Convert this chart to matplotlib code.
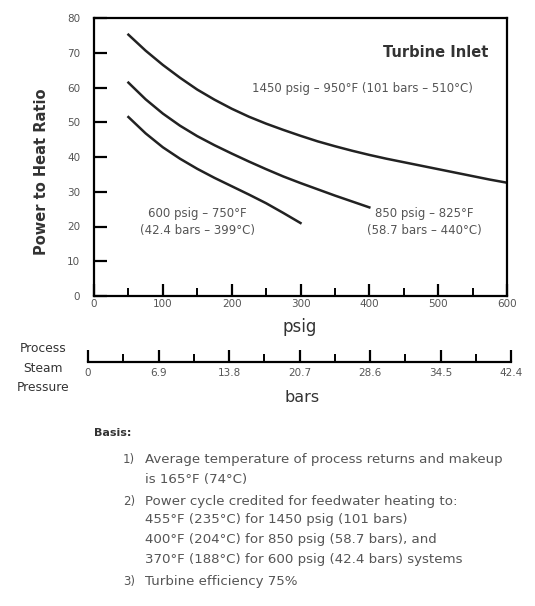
import numpy as np
import matplotlib
matplotlib.use("Agg")
import matplotlib.pyplot as plt
from matplotlib.ticker import MultipleLocator

# curve data (psig, power to heat ratio)
psig_1450 = [50, 75, 100, 125, 150, 175, 200, 225, 250, 275, 300, 325,
             350, 375, 400, 425, 450, 475, 500, 525, 550, 575, 600]
ratio_1450 = [75.2, 70.6, 66.5, 62.8, 59.4, 56.5, 53.9, 51.6, 49.6, 47.8, 46.1, 44.5,
              43.1, 41.8, 40.6, 39.5, 38.5, 37.5, 36.5, 35.5, 34.5, 33.5, 32.6]

psig_850 = [50, 75, 100, 125, 150, 175, 200, 225, 250, 275, 300, 325, 350, 375, 400]
ratio_850 = [61.4, 56.6, 52.5, 49.0, 46.0, 43.4, 41.0, 38.7, 36.5, 34.4, 32.5, 30.7,
             28.9, 27.2, 25.5]

psig_600 = [50, 75, 100, 125, 150, 175, 200, 225, 250, 275, 300]
ratio_600 = [51.5, 46.8, 42.8, 39.5, 36.6, 34.0, 31.6, 29.2, 26.7, 23.9, 21.0]

psig_ticks = [0, 100, 200, 300, 400, 500, 600]
bar_labels = ["0", "6.9", "13.8", "20.7", "28.6", "34.5", "42.4"]
y_ticks = [0, 10, 20, 30, 40, 50, 60, 70, 80]

notes = [
    ("1)", "Average temperature of process returns and makeup"),
    ("", "is 165°F (74°C)"),
    ("2)", "Power cycle credited for feedwater heating to:"),
    ("", "455°F (235°C) for 1450 psig (101 bars)"),
    ("", "400°F (204°C) for 850 psig (58.7 bars), and"),
    ("", "370°F (188°C) for 600 psig (42.4 bars) systems"),
    ("3)", "Turbine efficiency 75%"),
]

W, H = 535, 606
fig = plt.figure(figsize=(W / 100, H / 100), dpi=100)
txt = "#555555"


def fx(px):
    return px / W


def fy(py):
    return 1 - py / H


# main axes
ax = fig.add_axes([fx(94), fy(296), fx(507) - fx(94), fy(18) - fy(296)])
for xs, ys in [(psig_1450, ratio_1450), (psig_850, ratio_850), (psig_600, ratio_600)]:
    ax.plot(xs, ys, color="#222222", lw=1.8, solid_joinstyle="round")
ax.set_xlim(0, 600)
ax.set_ylim(0, 79.4)
ax.set_xticks(psig_ticks)
ax.xaxis.set_minor_locator(MultipleLocator(50))
ax.set_yticks(y_ticks)
for s in ax.spines.values():
    s.set_linewidth(1.6)
ax.tick_params(axis="both", which="major", direction="in", length=9, width=1.6,
               labelsize=7.5, labelcolor=txt)
ax.tick_params(axis="x", which="minor", direction="in", length=6, width=1.4)
ax.tick_params(axis="x", pad=2)
ax.tick_params(axis="y", pad=10)

ax.text(0.955, 0.875, "Turbine Inlet", transform=ax.transAxes, ha="right",
        va="center", fontsize=10.5, color="#333333", fontweight="bold")
ax.text(0.917, 0.748, "1450 psig – 950°F (101 bars – 510°C)", transform=ax.transAxes,
        ha="right", va="center", fontsize=8.5, color=txt)
ax.text(0.25, 0.265, "600 psig – 750°F\n(42.4 bars – 399°C)", transform=ax.transAxes,
        ha="center", va="center", fontsize=8.5, color=txt, linespacing=1.4)
ax.text(0.80, 0.265, "850 psig – 825°F\n(58.7 bars – 440°C)", transform=ax.transAxes,
        ha="center", va="center", fontsize=8.5, color=txt, linespacing=1.4)

fig.text(fx(42), fy(172), "Power to Heat Ratio", rotation=90, ha="center", va="center",
         fontsize=10.5, color="#333333", fontweight="bold")
fig.text(fx(300), fy(327), "psig", ha="center", va="center", fontsize=12, color="#333333")

# bars scale
ax2 = fig.add_axes([fx(88), fy(362), fx(511) - fx(88), 0.001])
ax2.set_xlim(0, 6)
ax2.set_ylim(0, 1)
ax2.set_xticks(range(7))
ax2.set_xticklabels(bar_labels)
ax2.xaxis.set_minor_locator(MultipleLocator(0.5))
for k in ["top", "left", "right"]:
    ax2.spines[k].set_visible(False)
ax2.spines["bottom"].set_linewidth(1.6)
ax2.set_yticks([])
ax2.tick_params(axis="x", which="major", direction="in", length=9, width=1.6,
                labelsize=7.5, labelcolor=txt, pad=4)
ax2.tick_params(axis="x", which="minor", direction="in", length=6, width=1.4)
fig.text(fx(302), fy(398), "bars", ha="center", va="center", fontsize=11.5, color="#333333")
fig.text(fx(43), fy(368), "Process\nSteam\nPressure", ha="center", va="center",
         fontsize=8.8, color="#333333", linespacing=1.65)

# basis notes
fig.text(fx(94), fy(433), "Basis:", ha="left", va="center", fontsize=8,
         color="#333333", fontweight="bold")
rows = [460, 480, 502, 520, 540, 560, 582]
for (num, line), py in zip(notes, rows):
    if num:
        fig.text(fx(123), fy(py), num, ha="left", va="center", fontsize=8.5, color=txt)
    fig.text(fx(145), fy(py), line, ha="left", va="center", fontsize=9.6, color=txt)

fig.savefig("out.png", dpi=100)
